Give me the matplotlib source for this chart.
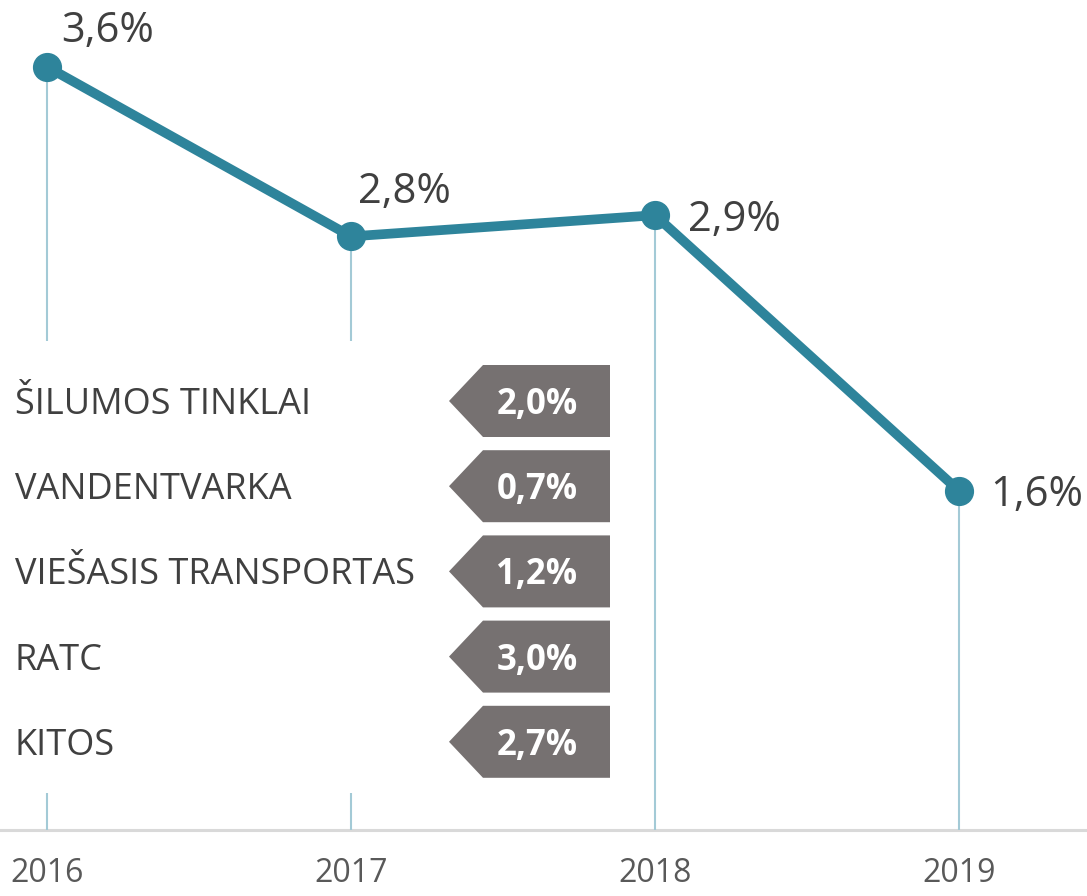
import matplotlib.pyplot as plt
from matplotlib.patches import Polygon, Rectangle

# data
years = ["2016", "2017", "2018", "2019"]
values = [3.6, 2.8, 2.9, 1.6]
categories = ["ŠILUMOS TINKLAI", "VANDENTVARKA", "VIEŠASIS TRANSPORTAS", "RATC", "KITOS"]
cat_values = [2.0, 0.7, 1.2, 3.0, 2.7]

# label offsets (pixels) for the line labels
lab_off = [(14, 36), (7, 44), (33, -5), (31, -4)]

line_col = "#2E849B"
drop_col = "#A3CAD6"
text_col = "#404040"
tag_col = "#767171"

W, H = 1087, 896
fig = plt.figure(figsize=(W / 100, H / 100), dpi=100)

# main chart, full figure; pixel mapping x = 47 + i*304, y = 830 - 212*v
ax = fig.add_axes([0, 0, 1, 1])
ax.set_xlim(-47 / 304, (W - 47) / 304)
ax.set_ylim((830 - H) / 212, 830 / 212)
ax.axis("off")

xs = list(range(len(years)))
ax.axhline(0, color="#D9D9D9", lw=2.2, zorder=1)
ax.vlines(xs, 0, values, color=drop_col, lw=1.5, zorder=2)
ax.plot(xs, values, color=line_col, lw=7, marker="o", ms=20,
        solid_capstyle="round", zorder=4)

for x, v, (dx, dy) in zip(xs, values, lab_off):
    ax.annotate(f"{v:.1f}%".replace(".", ","), (x, v),
                xytext=(dx * 0.72, dy * 0.72), textcoords="offset points",
                ha="left", va="center", fontsize=30, color=text_col,
                family="Open Sans", zorder=5)

for x, y in zip(xs, years):
    ax.annotate(y, (x, 0), xytext=(0, -31), textcoords="offset points",
                ha="center", va="center", fontsize=23, color="#595959",
                family="Open Sans")

# panel with category tags, in pixel coordinates
pan = fig.add_axes([0, 0, 1, 1])
pan.set_xlim(0, W)
pan.set_ylim(H, 0)
pan.axis("off")
pan.patch.set_alpha(0)

pan.add_patch(Rectangle((0, 341), 625, 452, facecolor="white", edgecolor="none", zorder=1))

y0, step, h = 401, 85.2, 72
for i, (cat, v) in enumerate(zip(categories, cat_values)):
    yc = y0 + i * step
    pts = [(449, yc), (483, yc - h / 2), (610, yc - h / 2), (610, yc + h / 2), (483, yc + h / 2)]
    pan.add_patch(Polygon(pts, closed=True, facecolor=tag_col, edgecolor="none", zorder=2))
    pan.text(537, yc + 4, f"{v:.1f}%".replace(".", ","), ha="center", va="center",
             fontsize=25, fontweight="bold", color="white", family="Open Sans", zorder=3)
    pan.text(15, yc + 4, cat, ha="left", va="center", fontsize=26,
             color=text_col, family="Open Sans", zorder=3)

fig.savefig("out.png", dpi=100)
